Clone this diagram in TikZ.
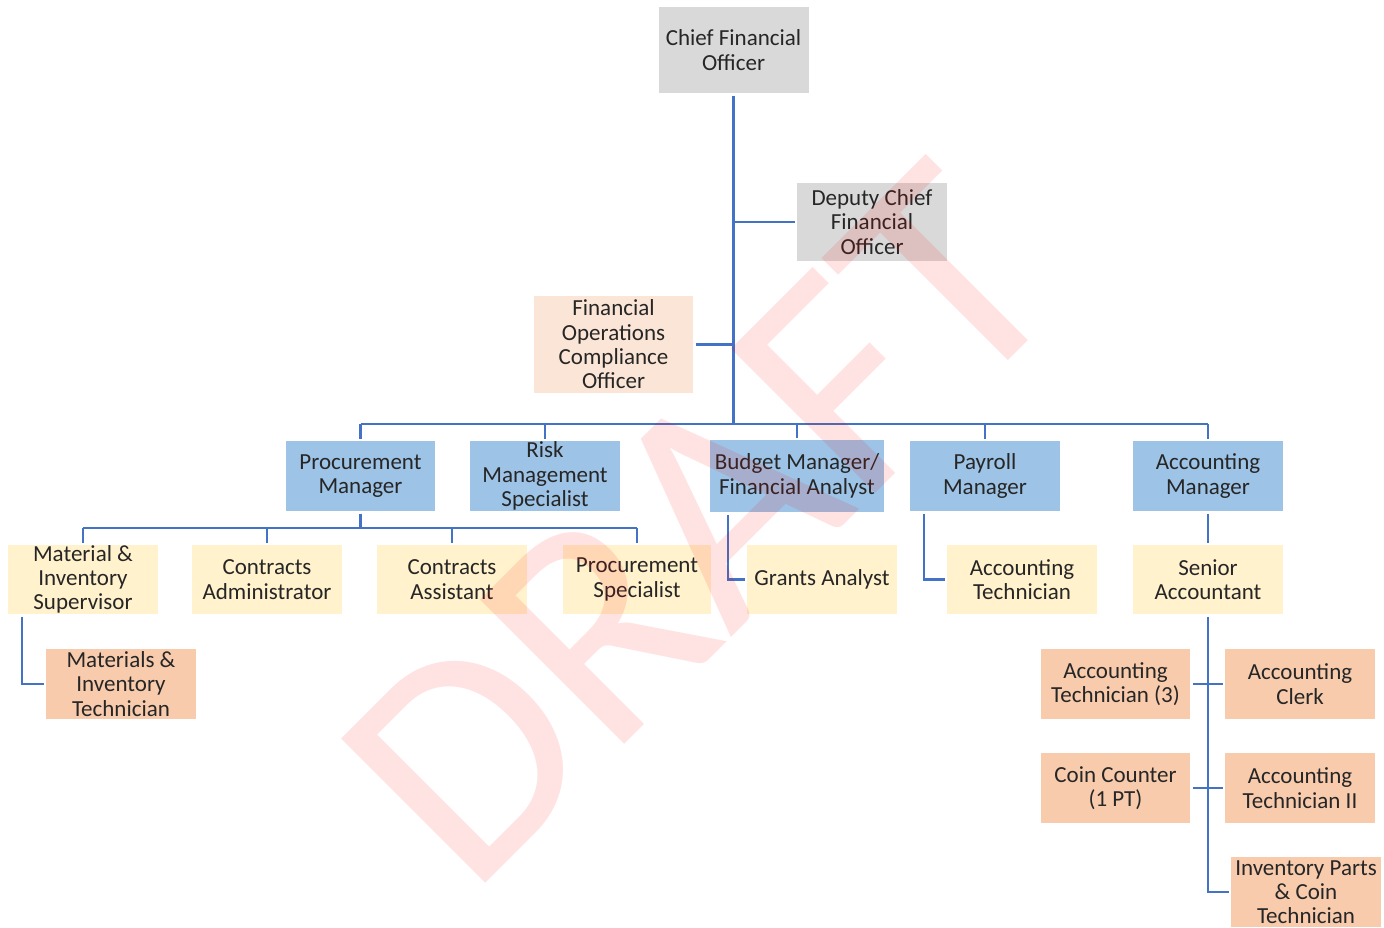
\documentclass[tikz,border=0pt]{standalone}
\usepackage{fontspec}
\setmainfont{Carlito}
\usetikzlibrary{positioning}

\definecolor{linkblue}{HTML}{4472C4}
\definecolor{boxgray}{HTML}{D9D9D9}
\definecolor{boxblue}{HTML}{9DC3E6}
\definecolor{boxyellow}{HTML}{FFF2CC}
\definecolor{boxpeach}{HTML}{F8CBAD}
\definecolor{boxpale}{HTML}{FBE5D6}
\definecolor{inkgray}{HTML}{262626}

\tikzset{
  role/.style={inner sep=0pt, outer sep=2.5pt, align=center, text=inkgray,
    font=\fontsize{23}{24.3}\selectfont, minimum width=150pt, minimum height=70pt},
  exec/.style={role, fill=boxgray},
  staff/.style={role, fill=boxpale},
  mgr/.style={role, fill=boxblue},
  lead/.style={role, fill=boxyellow},
  tech/.style={role, fill=boxpeach},
  trunk/.style={draw=linkblue, line width=3pt},
  link/.style={draw=linkblue, line width=2.2pt},
  stamp/.style={text=red, text opacity=0.11, inner sep=0pt,
    font=\fontsize{318}{318}\selectfont}
}

\begin{document}
\begin{tikzpicture}[x=1pt, y=-1pt]
\useasboundingbox (0,0) rectangle (1384,927);

% executive level
\node[exec, minimum height=86pt] (cfo) at (733.5,50) {Chief Financial\\Officer};
\node[exec, minimum height=78pt] (dep) at (872,222) {Deputy Chief\\Financial\\Officer};
\node[staff, minimum width=159pt, minimum height=97pt] (foco) at (613.5,344.5) {Financial\\Operations\\Compliance\\Officer};

% managers
\node[mgr, minimum width=149pt] (pm) at (360.5,476) {Procurement\\Manager};
\node[mgr] (risk) at (545,476) {Risk\\Management\\Specialist};
\node[mgr, minimum width=174pt, minimum height=72pt] (bud) at (797,476) {Budget Manager/\\Financial Analyst};
\node[mgr] (pay) at (985,476) {Payroll\\Manager};
\node[mgr] (am) at (1208,476) {Accounting\\Manager};

% second tier
\node[lead, minimum height=69pt] (mis) at (83,579.5) {Material \&\\Inventory\\Supervisor};
\node[lead, minimum height=69pt] (cad) at (267,579.5) {Contracts\\Administrator};
\node[lead, minimum height=69pt] (cas) at (452,579.5) {Contracts\\Assistant};
\node[lead, minimum height=69pt, minimum width=148pt] (psp) at (637,579.5) {Procurement\\Specialist};
\node[lead, minimum height=69pt] (ga) at (822,579.5) {Grants Analyst};
\node[lead, minimum height=69pt] (at) at (1022,579.5) {Accounting\\Technician};
\node[lead, minimum height=69pt] (sa) at (1208,579.5) {Senior\\Accountant};

% technicians and clerks
\node[tech] (mit) at (121,684) {Materials \&\\Inventory\\Technician};
\node[tech, minimum width=149pt] (at3) at (1115.5,684) {Accounting\\Technician (3)};
\node[tech] (clerk) at (1300,684) {Accounting\\Clerk};
\node[tech, minimum width=149pt] (coin) at (1115.5,788) {Coin Counter\\(1 PT)};
\node[tech] (at2) at (1300,788) {Accounting\\Technician II};
\node[tech] (inv) at (1306,892) {Inventory Parts\\\& Coin\\Technician};

% reporting lines
\coordinate (bus) at (733.5,424);
\coordinate (pbus) at (360.5,528);

\draw[trunk] (cfo.south) -- (bus);
\draw[link] (cfo.south |- dep.west) -- (dep.west);
\draw[link] (foco.east) -- (cfo.south |- foco.east);

\draw[link] (pm.north |- bus) -- (am.north |- bus);
\foreach \n in {pm, risk, bud, pay, am}
  \draw[link] (\n.north |- bus) -- (\n.north);

\draw[link] (pm.south) -- (pbus);
\draw[link] (mis.north |- pbus) -- (psp.north |- pbus);
\foreach \n in {mis, cad, cas, psp}
  \draw[link] (\n.north |- pbus) -- (\n.north);

\draw[link] ([xshift=16.5pt]mis.south west) |- (mit.west);
\draw[link] ([xshift=20.5pt]bud.south west) |- (ga.west);
\draw[link] ([xshift=16.5pt]pay.south west) |- (at.west);
\draw[link] (am.south) -- (sa.north);
\draw[link] (sa.south) |- (inv.west);
\draw[link] (at3.east) -- (clerk.west);
\draw[link] (coin.east) -- (at2.west);

% watermark
\node[stamp, rotate=45, anchor=base west] (mark) at (470,899) {DRAFT};
\end{tikzpicture}
\end{document}
